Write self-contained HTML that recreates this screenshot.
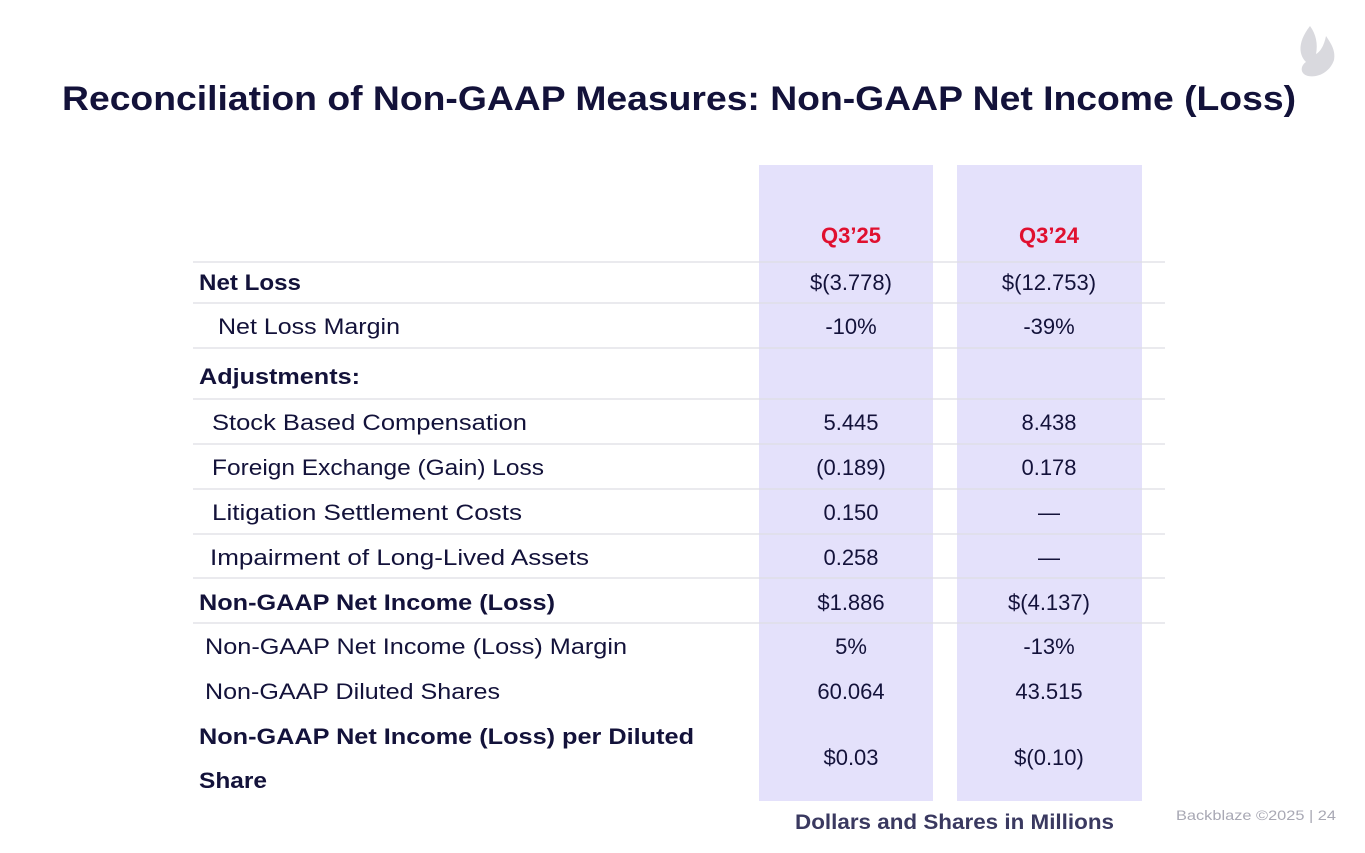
<!DOCTYPE html>
<html><head><meta charset="utf-8"><style>
html,body{margin:0;padding:0;background:#fff;}
svg{display:block;font-family:"Liberation Sans",sans-serif;}
</style></head><body>
<svg width="1365" height="853" viewBox="0 0 1365 853">
<g fill="#d9d9de">
<path d="M1310 26 C1296 44 1300 56 1306 62 C1300 66 1300 74 1308 76 C1318 78 1330 72 1334 60 C1336 50 1330 42 1326 36 C1324 46 1320 52 1316 54 C1318 44 1316 34 1310 26 Z"/>
</g>
<text x="62" y="110" font-size="34" font-weight="bold" fill="#13123a" textLength="1234" lengthAdjust="spacingAndGlyphs">Reconciliation of Non-GAAP Measures: Non-GAAP Net Income (Loss)</text>
<rect x="759" y="165" width="174" height="636" fill="#e4e1fb"/>
<rect x="957" y="165" width="185" height="636" fill="#e4e1fb"/>
<g stroke="#dedee4" stroke-width="1.2">
<line x1="193" x2="1165" y1="262" y2="262"/><line x1="193" x2="1165" y1="303" y2="303"/><line x1="193" x2="1165" y1="348" y2="348"/><line x1="193" x2="1165" y1="399" y2="399"/><line x1="193" x2="1165" y1="444" y2="444"/><line x1="193" x2="1165" y1="489" y2="489"/><line x1="193" x2="1165" y1="534" y2="534"/><line x1="193" x2="1165" y1="578" y2="578"/><line x1="193" x2="1165" y1="623" y2="623"/>
</g>
<g font-size="22" fill="#e0102f" font-weight="bold" text-anchor="middle">
<text x="851" y="243">Q3’25</text>
<text x="1049" y="243">Q3’24</text>
</g>
<g font-size="22" fill="#13123a" lengthAdjust="spacingAndGlyphs">
<text x="199" y="290" font-weight="bold" textLength="102" lengthAdjust="spacingAndGlyphs">Net Loss</text>
<text x="218" y="334" textLength="182" lengthAdjust="spacingAndGlyphs">Net Loss Margin</text>
<text x="199" y="384" font-weight="bold" textLength="161" lengthAdjust="spacingAndGlyphs">Adjustments:</text>
<text x="212" y="430" textLength="315" lengthAdjust="spacingAndGlyphs">Stock Based Compensation</text>
<text x="212" y="475" textLength="332" lengthAdjust="spacingAndGlyphs">Foreign Exchange (Gain) Loss</text>
<text x="212" y="520" textLength="310" lengthAdjust="spacingAndGlyphs">Litigation Settlement Costs</text>
<text x="210" y="565" textLength="379" lengthAdjust="spacingAndGlyphs">Impairment of Long-Lived Assets</text>
<text x="199" y="610" font-weight="bold" textLength="356" lengthAdjust="spacingAndGlyphs">Non-GAAP Net Income (Loss)</text>
<text x="205" y="654" textLength="422" lengthAdjust="spacingAndGlyphs">Non-GAAP Net Income (Loss) Margin</text>
<text x="205" y="699" textLength="295" lengthAdjust="spacingAndGlyphs">Non-GAAP Diluted Shares</text>
<text x="199" y="744" font-weight="bold" textLength="495" lengthAdjust="spacingAndGlyphs">Non-GAAP Net Income (Loss) per Diluted</text>
<text x="199" y="788" font-weight="bold" textLength="68" lengthAdjust="spacingAndGlyphs">Share</text>
</g>
<g font-size="22" fill="#13123a" text-anchor="middle">
<text x="851" y="290">$(3.778)</text>
<text x="1049" y="290">$(12.753)</text>
<text x="851" y="334">-10%</text>
<text x="1049" y="334">-39%</text>
<text x="851" y="430">5.445</text>
<text x="1049" y="430">8.438</text>
<text x="851" y="475">(0.189)</text>
<text x="1049" y="475">0.178</text>
<text x="851" y="520">0.150</text>
<text x="1049" y="520">—</text>
<text x="851" y="565">0.258</text>
<text x="1049" y="565">—</text>
<text x="851" y="610">$1.886</text>
<text x="1049" y="610">$(4.137)</text>
<text x="851" y="654">5%</text>
<text x="1049" y="654">-13%</text>
<text x="851" y="699">60.064</text>
<text x="1049" y="699">43.515</text>
<text x="851" y="765">$0.03</text>
<text x="1049" y="765">$(0.10)</text>
</g>
<text x="795" y="829" font-size="21" font-weight="bold" fill="#3a3960" textLength="319" lengthAdjust="spacingAndGlyphs">Dollars and Shares in Millions</text>
<text x="1176" y="820" font-size="14" fill="#a8a8b4" textLength="160" lengthAdjust="spacingAndGlyphs">Backblaze ©2025  |  24</text>
</svg>
</body></html>
